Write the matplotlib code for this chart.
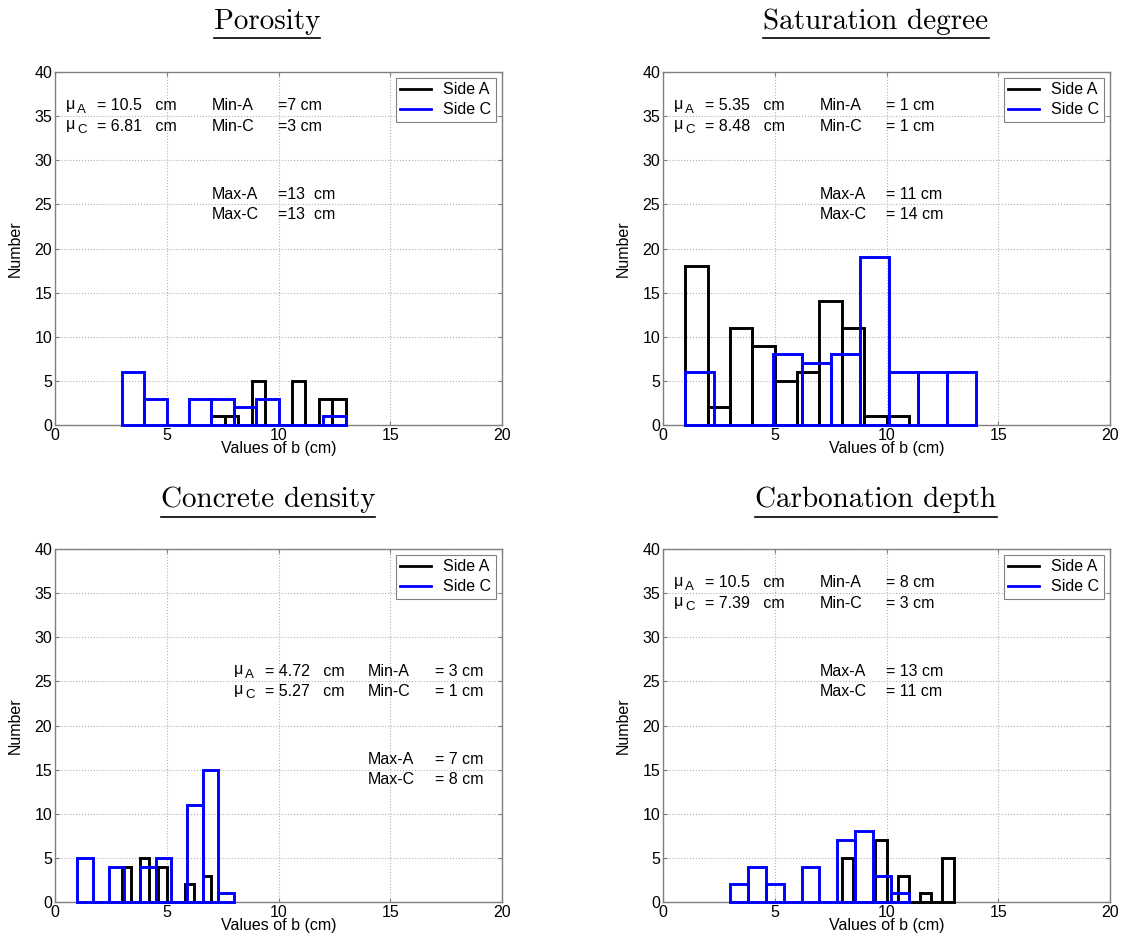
import numpy as np
import matplotlib
matplotlib.use('Agg')
import matplotlib.pyplot as plt
from matplotlib.lines import Line2D

plt.rcParams['font.family'] = ['Liberation Sans', 'DejaVu Sans']

# panel titles
titles = ['Porosity', 'Saturation degree', 'Concrete density', 'Carbonation depth']

# histogram ranges (min, max) for side A and side C, 10 bins each
range_a = [(7, 13), (1, 11), (3, 7), (8, 13)]
range_c = [(3, 13), (1, 14), (1, 8), (3, 11)]

# bar heights
counts_porosity_a = [1, 1, 0, 5, 0, 0, 5, 0, 3, 3]
counts_porosity_c = [6, 3, 0, 3, 3, 2, 3, 0, 0, 1]
counts_saturation_a = [18, 2, 11, 9, 5, 6, 14, 11, 1, 1]
counts_saturation_c = [6, 0, 0, 8, 7, 8, 19, 6, 6, 6]
counts_density_a = [4, 0, 5, 0, 4, 0, 0, 2, 0, 3]
counts_density_c = [5, 0, 4, 0, 4, 5, 0, 11, 15, 1]
counts_carbon_a = [5, 0, 0, 7, 0, 3, 0, 1, 0, 5]
counts_carbon_c = [2, 4, 2, 0, 4, 0, 7, 8, 3, 1]

counts_a = [counts_porosity_a, counts_saturation_a, counts_density_a, counts_carbon_a]
counts_c = [counts_porosity_c, counts_saturation_c, counts_density_c, counts_carbon_c]

# annotation values
mu_a = ['10.5', '5.35', '4.72', '10.5']
mu_c = ['6.81', '8.48', '5.27', '7.39']
min_a = ['7', '1', '3', '8']
min_c = ['3', '1', '1', '3']
max_a = ['13', '11', '7', '13']
max_c = ['13', '14', '8', '11']
eq_sign = ['=', '= ', '= ', '= ']  # porosity has no blank after '='
max_gap = ['  ', ' ', ' ', ' ']

# where the annotation blocks sit (data coords)
mu_xy = [(0.5, 35), (0.5, 35), (8, 25), (0.5, 35)]
min_xy = [(7, 35), (7, 35), (14, 25), (7, 35)]
max_xy = [(7, 25), (7, 25), (14, 15), (7, 25)]

W, H = 1131, 949
fig = plt.figure(figsize=(W / 100, H / 100), dpi=100)

lefts = [55, 663, 55, 663]
tops = [72, 72, 549, 549]
title_cx = [267, 876, 268, 876]
title_base = [29, 29, 507, 507]
title_line = [38, 38, 517, 517]

fs = 11.5
dy = 1.15  # half line spacing in data units

def put(ax, x, y, s, size=fs):
	ax.text(x, y, s, fontsize=size, va='center', zorder=5)

for i in range(4):
	ax = fig.add_axes([lefts[i] / W, 1 - (tops[i] + 353) / H, 447 / W, 353 / H])

	ea = np.linspace(range_a[i][0], range_a[i][1], 11)
	ec = np.linspace(range_c[i][0], range_c[i][1], 11)
	ax.bar(ea[:-1], counts_a[i], width=np.diff(ea), align='edge', fill=False,
		edgecolor='black', linewidth=2.1, clip_on=False, zorder=3)
	ax.bar(ec[:-1], counts_c[i], width=np.diff(ec), align='edge', fill=False,
		edgecolor='blue', linewidth=2.1, clip_on=False, zorder=4)

	ax.set_xlim(0, 20)
	ax.set_ylim(0, 40)
	ax.set_xticks([0, 5, 10, 15, 20])
	ax.set_yticks(range(0, 41, 5))
	ax.grid(True, linestyle=':', color='#b0b0b0', linewidth=0.8, zorder=0)
	ax.set_axisbelow(True)
	for s in ax.spines.values():
		s.set_color('#808080')
		s.set_linewidth(1)
	ax.tick_params(direction='in', length=3, color='#808080', labelsize=fs,
		top=True, right=True, pad=2)
	ax.set_xlabel('Values of b (cm)', fontsize=fs, labelpad=-1)
	ax.set_ylabel('Number', fontsize=fs, labelpad=8)

	# mean block: mu with a big subscript
	x0, y0 = mu_xy[i]
	put(ax, x0, y0 + dy + 0.2, 'μ')
	put(ax, x0, y0 - dy + 0.2, 'μ')
	put(ax, x0 + 0.5, y0 + dy - 0.45, 'A', 9.5)
	put(ax, x0 + 0.5, y0 - dy - 0.45, 'C', 9.5)
	put(ax, x0 + 1.4, y0 + dy, '= ' + mu_a[i] + '   cm')
	put(ax, x0 + 1.4, y0 - dy, '= ' + mu_c[i] + '   cm')

	x1, y1 = min_xy[i]
	put(ax, x1, y1 + dy, 'Min-A')
	put(ax, x1, y1 - dy, 'Min-C')
	put(ax, x1 + 3.0, y1 + dy, eq_sign[i] + min_a[i] + ' cm')
	put(ax, x1 + 3.0, y1 - dy, eq_sign[i] + min_c[i] + ' cm')

	x2, y2 = max_xy[i]
	put(ax, x2, y2 + dy, 'Max-A')
	put(ax, x2, y2 - dy, 'Max-C')
	put(ax, x2 + 3.0, y2 + dy, eq_sign[i] + max_a[i] + max_gap[i] + 'cm')
	put(ax, x2 + 3.0, y2 - dy, eq_sign[i] + max_c[i] + max_gap[i] + 'cm')

	handles = [Line2D([], [], color='black', lw=2), Line2D([], [], color='blue', lw=2)]
	leg = ax.legend(handles, ['Side A', 'Side C'], loc='upper right', fontsize=fs,
		fancybox=False, framealpha=1, edgecolor='#808080', handlelength=1.9,
		handletextpad=0.8, labelspacing=0.3, borderpad=0.3, borderaxespad=0.35)
	leg.get_frame().set_linewidth(0.8)
	leg.set_zorder(6)

# underlined serif titles above each panel
title_artists = []
for i in range(4):
	t = fig.text(title_cx[i] / W, 1 - title_base[i] / H, titles[i], family='cmr10',
		fontsize=21, ha='center', va='baseline')
	title_artists.append(t)

fig.canvas.draw()
renderer = fig.canvas.get_renderer()
for i, t in enumerate(title_artists):
	bb = t.get_window_extent(renderer)
	y = 1 - title_line[i] / H
	fig.add_artist(Line2D([bb.x0 / W, bb.x1 / W], [y, y], color='black', lw=1.2))

fig.savefig('out.png', dpi=100)
